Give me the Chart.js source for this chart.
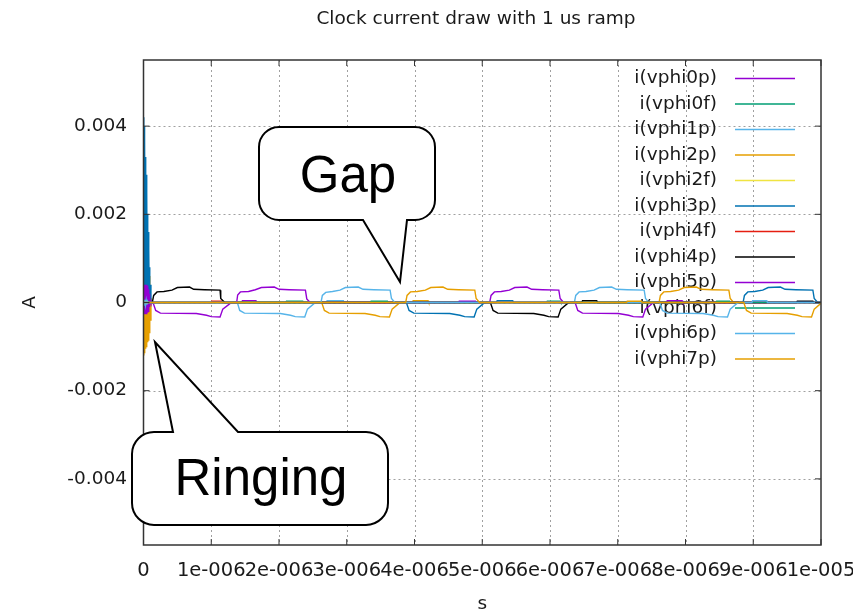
<!DOCTYPE html>
<html>
<head>
<meta charset="utf-8">
<script src="https://cdn.jsdelivr.net/npm/chart.js@4.4.0/dist/chart.umd.min.js"></script>
<style>
  body { margin: 0; background: #fff; }
  canvas { display: block; }
</style>
</head>
<body>
<canvas id="myChart" width="853" height="616"></canvas>
<script>
// time in microseconds, current in amps
const seriesLabels = ['i(vphi0p)', 'i(vphi0f)', 'i(vphi1p)', 'i(vphi2p)', 'i(vphi2f)', 'i(vphi3p)',
    'i(vphi4f)', 'i(vphi4p)', 'i(vphi5p)', 'i(vphi6f)', 'i(vphi6p)', 'i(vphi7p)'];

const xTicks = [0, 1e-6, 2e-6, 3e-6, 4e-6, 5e-6, 6e-6, 7e-6, 8e-6, 9e-6, 1e-5];
const yTicks = [-0.004, -0.002, 0, 0.002, 0.004];

const vphi0p = [[0, 0], [0.004, 2.4e-3], [0.008, -0.2e-3], [0.012, 3.0e-3], [0.017, -0.3e-3], [0.022, 2.7e-3],
    [0.027, -0.2e-3], [0.032, 2.2e-3], [0.037, -0.2e-3], [0.042, 1.7e-3], [0.047, -0.1e-3], [0.052, 1.2e-3],
    [0.057, -0.1e-3], [0.062, 0.8e-3], [0.068, -0.1e-3], [0.074, 0.4e-3], [0.08, -0.1e-3], [0.09, 0.1e-3], [0.1, 0],
    [0.14, 0], [0.18, -1.8e-4], [0.25, -2.4e-4], [0.78, -2.5e-4], [0.93, -2.9e-4], [1.0, -3.2e-4], [1.13, -3.3e-4],
    [1.17, -1.5e-4], [1.28, -0.2e-4], [1.32, 0],
    [1.45, 0], [1.46, 4e-5], [1.66, 4e-5], [1.67, 0],
    [5.11, 0], [5.13, 1.6e-4], [5.18, 2.4e-4], [5.28, 2.5e-4], [5.4, 2.8e-4], [5.48, 3.4e-4], [5.66, 3.5e-4],
    [5.73, 3.0e-4], [5.89, 2.9e-4], [6.13, 2.8e-4], [6.15, 0.9e-4], [6.2, 0], [10, 0]];

const vphi0f = [[0, 0], [2.1, 0], [2.11, 3e-5], [2.35, 3e-5], [2.36, 0],
    [5.95, 0], [5.96, 3e-5], [6.15, 3e-5], [6.16, 0], [10, 0]];

const vphi1p = [[0, 0], [1.385, 0], [1.42, -1.8e-4], [1.49, -2.4e-4], [2.02, -2.5e-4], [2.17, -2.9e-4],
    [2.24, -3.2e-4], [2.38, -3.3e-4], [2.42, -1.5e-4], [2.52, -0.2e-4], [2.56, 0],
    [2.7, 0], [2.71, 4e-5], [2.95, 4e-5], [2.96, 0],
    [6.36, 0], [6.38, 1.6e-4], [6.43, 2.4e-4], [6.53, 2.5e-4], [6.65, 2.8e-4], [6.73, 3.4e-4], [6.91, 3.5e-4],
    [6.98, 3.0e-4], [7.14, 2.9e-4], [7.39, 2.8e-4], [7.41, 0.9e-4], [7.46, 0], [10, 0]];

const vphi2p = [[0, 0], [0.003, 0.8e-3], [0.006, -1.2e-3], [0.01, 0.8e-3], [0.014, -1.15e-3], [0.018, 0.8e-3],
    [0.022, -1.1e-3], [0.026, 0.8e-3], [0.03, -1.05e-3], [0.035, 0.8e-3], [0.04, -1.0e-3], [0.045, 0.75e-3],
    [0.05, -0.95e-3], [0.055, 0.75e-3], [0.06, -0.9e-3], [0.065, 0.7e-3], [0.07, -0.85e-3], [0.075, 0.7e-3],
    [0.08, -0.8e-3], [0.085, 0.6e-3], [0.09, -0.7e-3], [0.095, 0.4e-3], [0.1, -0.4e-3], [0.11, 0.1e-3], [0.12, 0],
    [2.63, 0], [2.67, -1.8e-4], [2.74, -2.4e-4], [3.27, -2.5e-4], [3.42, -2.9e-4], [3.49, -3.2e-4], [3.63, -3.3e-4],
    [3.67, -1.5e-4], [3.77, -0.2e-4], [3.81, 0],
    [3.97, 0], [3.98, 4e-5], [4.2, 4e-5], [4.21, 0],
    [7.61, 0], [7.63, 1.6e-4], [7.68, 2.4e-4], [7.78, 2.5e-4], [7.9, 2.8e-4], [7.98, 3.4e-4], [8.16, 3.5e-4],
    [8.23, 3.0e-4], [8.39, 2.9e-4], [8.64, 2.8e-4], [8.66, 0.9e-4], [8.71, 0], [10, 0]];

const vphi2f = [[0, 0], [10, 0]];

const vphi3p = [[0, 0], [0.004, 4.2e-3], [0.008, 0.3e-3], [0.012, 4.0e-3], [0.016, 0.2e-3], [0.02, 3.7e-3],
    [0.025, 0.2e-3], [0.03, 3.3e-3], [0.035, 0.2e-3], [0.04, 2.9e-3], [0.045, 0.1e-3], [0.05, 2.5e-3],
    [0.055, 0.1e-3], [0.06, 2.0e-3], [0.065, 0.1e-3], [0.07, 1.6e-3], [0.075, 0], [0.08, 1.2e-3], [0.085, 0],
    [0.09, 0.8e-3], [0.095, 0], [0.1, 0.4e-3], [0.11, 0],
    [3.88, 0], [3.92, -1.8e-4], [3.99, -2.4e-4], [4.52, -2.5e-4], [4.67, -2.9e-4], [4.74, -3.2e-4], [4.88, -3.3e-4],
    [4.92, -1.5e-4], [5.02, -0.2e-4], [5.06, 0],
    [5.21, 0], [5.22, 4e-5], [5.45, 4e-5], [5.46, 0],
    [8.85, 0], [8.87, 1.6e-4], [8.92, 2.4e-4], [9.02, 2.5e-4], [9.14, 2.8e-4], [9.22, 3.4e-4], [9.4, 3.5e-4],
    [9.47, 3.0e-4], [9.63, 2.9e-4], [9.88, 2.8e-4], [9.9, 0.9e-4], [9.95, 0], [10, 0]];

const vphi4f = [[0, 0], [1.0, 0], [1.01, 3e-5], [1.15, 3e-5], [1.16, 0], [10, 0]];

const vphi4p = [[0, 0], [0.13, 0], [0.15, 1.6e-4], [0.2, 2.4e-4], [0.3, 2.5e-4], [0.42, 2.8e-4], [0.5, 3.4e-4],
    [0.68, 3.5e-4], [0.74, 3.0e-4], [0.9, 2.9e-4], [1.13, 2.8e-4], [1.14, 0.9e-4], [1.2, 0],
    [5.12, 0], [5.16, -1.8e-4], [5.23, -2.4e-4], [5.76, -2.5e-4], [5.91, -2.9e-4], [5.98, -3.2e-4], [6.12, -3.3e-4],
    [6.16, -1.5e-4], [6.26, -0.2e-4], [6.3, 0],
    [6.47, 0], [6.48, 4e-5], [6.69, 4e-5], [6.7, 0],
    [9.64, 0], [9.65, 3e-5], [9.88, 3e-5], [9.89, 0], [10, 0]];

const vphi5p = [[0, 0], [0.004, 4e-4], [0.008, -2.5e-4], [0.012, 4e-4], [0.016, -2.5e-4], [0.02, 4e-4],
    [0.024, -2.5e-4], [0.028, 4e-4], [0.032, -2.5e-4], [0.036, 4e-4], [0.04, -2.5e-4], [0.045, 4e-4],
    [0.05, -2.5e-4], [0.055, 3.8e-4], [0.06, -2.3e-4], [0.065, 3.5e-4], [0.07, -2e-4], [0.075, 3e-4],
    [0.08, -1.5e-4], [0.085, 2e-4], [0.09, -1e-4], [0.1, 0.5e-4], [0.11, 0],
    [1.375, 0], [1.39, 1.7e-4], [1.43, 2.4e-4], [1.55, 2.5e-4], [1.65, 2.9e-4], [1.74, 3.4e-4], [1.93, 3.5e-4],
    [2.0, 3.0e-4], [2.15, 2.9e-4], [2.39, 2.8e-4], [2.41, 0.8e-4], [2.46, 0],
    [4.65, 0], [4.66, 3e-5], [4.9, 3e-5], [4.91, 0],
    [6.37, 0], [6.41, -1.8e-4], [6.48, -2.4e-4], [7.01, -2.5e-4], [7.16, -2.9e-4], [7.23, -3.2e-4], [7.37, -3.3e-4],
    [7.41, -1.5e-4], [7.51, -0.2e-4], [7.55, 0],
    [7.72, 0], [7.73, 4e-5], [7.95, 4e-5], [7.96, 0], [10, 0]];

const vphi6f = [[0, 0], [3.35, 0], [3.36, 3e-5], [3.6, 3e-5], [3.61, 0],
    [8.45, 0], [8.46, 3e-5], [8.65, 3e-5], [8.66, 0], [10, 0]];

const vphi6p = [[0, 0], [0.005, 0.6e-4], [0.01, -0.6e-4], [0.02, 0.6e-4], [0.03, -0.6e-4], [0.04, 0.5e-4],
    [0.05, -0.5e-4], [0.06, 0.3e-4], [0.07, 0],
    [2.62, 0], [2.64, 1.6e-4], [2.69, 2.3e-4], [2.79, 2.5e-4], [2.9, 2.8e-4], [2.98, 3.4e-4], [3.17, 3.5e-4],
    [3.24, 3.0e-4], [3.4, 2.9e-4], [3.64, 2.8e-4], [3.66, 0.9e-4], [3.71, 0],
    [7.62, 0], [7.66, -1.8e-4], [7.73, -2.4e-4], [8.26, -2.5e-4], [8.41, -2.9e-4], [8.48, -3.2e-4], [8.62, -3.3e-4],
    [8.66, -1.5e-4], [8.76, -0.2e-4], [8.8, 0],
    [8.98, 0], [8.99, 4e-5], [9.2, 4e-5], [9.21, 0], [10, 0]];

const vphi7p = [[0, 0], [3.87, 0], [3.89, 1.6e-4], [3.94, 2.4e-4], [4.04, 2.5e-4], [4.16, 2.8e-4], [4.24, 3.4e-4],
    [4.42, 3.5e-4], [4.49, 3.0e-4], [4.65, 2.9e-4], [4.89, 2.8e-4], [4.91, 0.9e-4], [4.96, 0],
    [7.13, 0], [7.14, 3e-5], [7.35, 3e-5], [7.36, 0],
    [8.86, 0], [8.9, -1.8e-4], [8.97, -2.4e-4], [9.5, -2.5e-4], [9.65, -2.9e-4], [9.72, -3.2e-4], [9.86, -3.3e-4],
    [9.9, -1.5e-4], [10, -0.2e-4]];

const seriesData = [vphi0p, vphi0f, vphi1p, vphi2p, vphi2f, vphi3p, vphi4f, vphi4p, vphi5p, vphi6f, vphi6p, vphi7p];

// gnuplot default line colours
const seriesColors = ['#9400d3', '#009e73', '#56b4e9', '#e69f00', '#f0e442', '#0072b2',
    '#e51e10', '#000000', '#9400d3', '#009e73', '#56b4e9', '#e69f00'];

const gnuFont = '"DejaVu Sans", sans-serif';
const textColor = '#1a1a1a';

function fmtSeconds(v) {
    if (Math.abs(v) < 1e-12) return '0';
    const s = v.toExponential(0);              // "1e-6"
    const m = s.match(/^(-?\d)e([+-])(\d+)$/);
    return m[1] + 'e' + (m[2] === '-' ? '-' : '') + m[3].padStart(3, '0');
}

function drawBubble(ctx, box, tail, r) {
    const {x0, y0, x1, y1} = box;
    ctx.beginPath();
    ctx.moveTo(x0 + r, y0);
    if (tail.side === 'top') {
        ctx.lineTo(tail.a, y0);
        ctx.lineTo(tail.tx, tail.ty);
        ctx.lineTo(tail.b, y0);
    }
    ctx.lineTo(x1 - r, y0);
    ctx.arcTo(x1, y0, x1, y0 + r, r);
    ctx.lineTo(x1, y1 - r);
    ctx.arcTo(x1, y1, x1 - r, y1, r);
    if (tail.side === 'bottom') {
        ctx.lineTo(tail.b, y1);
        ctx.lineTo(tail.tx, tail.ty);
        ctx.lineTo(tail.a, y1);
    }
    ctx.lineTo(x0 + r, y1);
    ctx.arcTo(x0, y1, x0, y1 - r, r);
    ctx.lineTo(x0, y0 + r);
    ctx.arcTo(x0, y0, x0 + r, y0, r);
    ctx.closePath();
    ctx.fillStyle = '#fff';
    ctx.fill();
    ctx.strokeStyle = '#000';
    ctx.lineWidth = 2;
    ctx.stroke();
}

const gnuplotFrame = {
    id: 'gnuplotFrame',
    beforeDatasetsDraw(chart) {
        const {ctx, chartArea: a, scales: {x, y}} = chart;
        ctx.save();
        // dotted grid
        ctx.strokeStyle = '#a0a0a0';
        ctx.lineWidth = 1;
        ctx.setLineDash([2, 3]);
        x.ticks.forEach(t => {
            const px = Math.round(x.getPixelForValue(t.value)) + 0.5;
            if (px < a.left + 2 || px > a.right - 2) return;
            ctx.beginPath(); ctx.moveTo(px, a.top); ctx.lineTo(px, a.bottom); ctx.stroke();
        });
        y.ticks.forEach(t => {
            const py = Math.round(y.getPixelForValue(t.value)) + 0.5;
            ctx.beginPath(); ctx.moveTo(a.left, py); ctx.lineTo(a.right, py); ctx.stroke();
        });
        ctx.setLineDash([]);
        // key, top right inside the plot
        ctx.font = '18.5px ' + gnuFont;
        ctx.textAlign = 'right';
        ctx.textBaseline = 'middle';
        chart.data.datasets.forEach((ds, i) => {
            const ly = 78.5 + i * 25.5;
            ctx.fillStyle = textColor;
            ctx.fillText(ds.label, 717, ly);
            ctx.strokeStyle = ds.borderColor;
            ctx.lineWidth = 1.3;
            ctx.beginPath(); ctx.moveTo(735, ly); ctx.lineTo(795, ly); ctx.stroke();
        });
        ctx.restore();
    },
    afterDatasetsDraw(chart) {
        const {ctx, chartArea: a, scales: {x, y}} = chart;
        ctx.save();
        ctx.strokeStyle = '#333';
        ctx.lineWidth = 1.5;
        ctx.strokeRect(a.left, a.top, a.right - a.left, a.bottom - a.top);
        ctx.lineWidth = 1;
        ctx.beginPath();
        x.ticks.forEach(t => {
            const px = x.getPixelForValue(t.value);
            ctx.moveTo(px, a.bottom); ctx.lineTo(px, a.bottom - 6);
            ctx.moveTo(px, a.top); ctx.lineTo(px, a.top + 6);
        });
        y.ticks.forEach(t => {
            const py = y.getPixelForValue(t.value);
            ctx.moveTo(a.left, py); ctx.lineTo(a.left + 6, py);
            ctx.moveTo(a.right, py); ctx.lineTo(a.right - 6, py);
        });
        ctx.stroke();
        ctx.restore();
    },
    afterDraw(chart) {
        const {ctx} = chart;
        ctx.save();
        ctx.fillStyle = textColor;
        ctx.font = '18.5px ' + gnuFont;
        ctx.textAlign = 'center';
        ctx.textBaseline = 'alphabetic';
        ctx.fillText('Clock current draw with 1 us ramp', 476, 24);

        // call-outs pasted on top of the plot
        drawBubble(ctx, {x0: 259, y0: 127, x1: 435, y1: 220}, {side: 'bottom', a: 363, b: 407, tx: 400, ty: 282}, 20);
        drawBubble(ctx, {x0: 132, y0: 432, x1: 388, y1: 525}, {side: 'top', a: 173, b: 238, tx: 155, ty: 342}, 22);
        ctx.fillStyle = '#000';
        ctx.font = '51px "Liberation Sans", Arial, sans-serif';
        ctx.textAlign = 'center';
        ctx.fillText('Gap', 348, 192);
        ctx.fillText('Ringing', 261, 495);
        ctx.restore();
    }
};

const datasets = seriesData.map((arr, i) => ({
    label: seriesLabels[i],
    data: arr.map(([t, v]) => ({x: t * 1e-6, y: v})),
    borderColor: seriesColors[i],
    borderWidth: 1.4,
    pointRadius: 0,
    tension: 0,
    fill: false,
    order: seriesData.length - 1 - i
}));

const ctx = document.getElementById('myChart').getContext('2d');
const myChart = new Chart(ctx, {
    type: 'line',
    data: { datasets: datasets },
    options: {
        responsive: false,
        animation: false,
        events: [],
        layout: { padding: { top: 60, right: 32, left: 0, bottom: 0 } },
        plugins: {
            legend: { display: false },
            title: { display: false },
            tooltip: { enabled: false }
        },
        scales: {
            x: {
                type: 'linear',
                min: 0,
                max: 1e-5,
                afterBuildTicks: s => { s.ticks = xTicks.map(v => ({value: v})); },
                afterFit: s => { s.height = 71; s.paddingLeft = 0; s.paddingRight = 0; },
                grid: { display: false, drawTicks: false },
                border: { display: false },
                ticks: {
                    padding: 14,
                    maxRotation: 0,
                    autoSkip: false,
                    color: textColor,
                    font: { family: gnuFont, size: 19.5 },
                    callback: v => fmtSeconds(v)
                },
                title: { display: true, text: 's', color: textColor, padding: { top: 0, bottom: 1 },
                    font: { family: gnuFont, size: 18.5 } }
            },
            y: {
                min: -0.0055,
                max: 0.0055,
                afterBuildTicks: s => { s.ticks = yTicks.map(v => ({value: v})); },
                afterFit: s => { s.width = 143.5; s.paddingTop = 0; s.paddingBottom = 0; },
                grid: { display: false, drawTicks: false },
                border: { display: false },
                ticks: {
                    padding: 16.5,
                    color: textColor,
                    font: { family: gnuFont, size: 18.5 },
                    callback: v => (v === 0 ? '0' : String(+v.toFixed(3)))
                },
                title: { display: true, text: 'A', color: textColor, padding: { top: 19, bottom: 0 },
                    font: { family: gnuFont, size: 18.5 } }
            }
        }
    },
    plugins: [gnuplotFrame]
});
</script>
</body>
</html>
